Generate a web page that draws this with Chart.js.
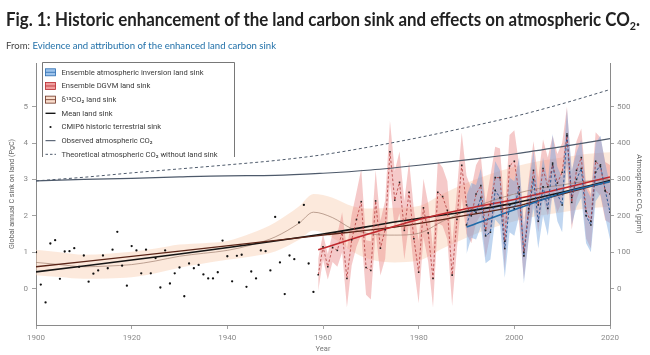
<!DOCTYPE html>
<html><head><meta charset="utf-8">
<script src="https://cdn.jsdelivr.net/npm/chart.js@4.4.1/dist/chart.umd.min.js"></script>
<style>
html,body{margin:0;padding:0;background:#fff;width:650px;height:355px;overflow:hidden}
#wrap{position:absolute;left:0;top:0;width:650px;height:355px}
#title{position:absolute;left:6px;top:9px;font:bold 19px Lato, sans-serif;line-height:19px;color:#222;white-space:nowrap;transform-origin:0 0}
#title sub{font-size:12px;vertical-align:-4px;line-height:0}
#sub{position:absolute;left:6px;top:41px;font:9px Lato, sans-serif;line-height:9px;color:#444;white-space:nowrap;transform-origin:0 0}
#sub span{color:#1f6fa8}
</style></head>
<body>
<div id="wrap"><canvas id="c" width="650" height="355"></canvas></div>
<div id="title">Fig. 1: Historic enhancement of the land carbon sink and effects on atmospheric CO<sub>2</sub>.</div>
<div id="sub">From: <span>Evidence and attribution of the enhanced land carbon sink</span></div>
<script>
// ---------- data (PgC yr-1 unless noted) ----------
const cmipYears = [1900,1901,1902,1903,1904,1905,1906,1907,1908,1909,1910,1911,1912,1913,1914,1915,1916,1917,1918,1919,1920,1921,1922,1923,1924,1925,1926,1927,1928,1929,1930,1931,1932,1933,1934,1935,1936,1937,1938,1939,1940,1941,1942,1943,1944,1945,1946,1947,1948,1949,1950,1951,1952,1953,1954,1955,1956,1957,1958];
const cmipSink = [1.00,0.11,-0.38,1.24,1.33,0.27,1.02,1.03,1.11,0.60,0.91,0.19,0.41,0.50,0.91,0.56,1.07,1.56,0.63,0.08,1.17,1.05,0.42,1.07,0.42,0.84,0.03,1.05,0.14,0.42,0.58,-0.21,0.69,0.56,0.65,0.39,0.28,0.28,0.45,1.32,0.89,0.20,0.90,0.93,0.05,0.47,0.28,1.05,1.03,0.50,1.97,0.72,-0.15,0.91,0.81,1.82,2.30,0.69,-0.09];

const dgvmYears = [1959,1960,1961,1962,1963,1964,1965,1966,1967,1968,1969,1970,1971,1972,1973,1974,1975,1976,1977,1978,1979,1980,1981,1982,1983,1984,1985,1986,1987,1988,1989,1990,1991,1992,1993,1994,1995,1996,1997,1998,1999,2000,2001,2002,2003,2004,2005,2006,2007,2008,2009,2010,2011,2012,2013,2014,2015,2016,2017,2018,2019,2020];
const dgvmSink = [0.38,1.15,0.60,1.13,1.05,1.55,0.28,1.34,1.90,2.39,0.58,0.50,2.41,1.11,1.62,3.76,2.43,2.92,1.60,2.65,1.37,0.45,2.22,1.53,0.28,2.65,2.53,2.15,0.37,1.90,3.39,2.30,2.00,2.60,2.83,1.60,2.30,3.05,3.05,1.30,3.37,3.50,2.60,1.00,2.20,3.25,2.30,3.30,2.80,3.40,2.90,3.20,4.20,2.37,3.25,3.60,2.13,1.85,3.50,3.35,2.68,2.60];
const dgvmSpread = [0.45,0.35,0.35,0.40,0.45,0.55,0.80,0.70,0.75,0.90,0.75,0.80,0.85,0.75,0.80,0.85,0.80,0.85,0.80,0.85,0.80,0.85,0.80,0.80,0.80,0.85,0.80,0.80,0.85,0.80,0.90,0.80,0.75,0.80,0.80,0.75,0.80,0.85,0.80,0.80,0.85,0.85,0.80,0.75,0.80,0.80,0.75,0.80,0.80,0.80,0.80,0.80,0.80,0.75,0.80,0.80,0.75,0.75,0.80,0.80,0.80,0.80];

const invYears = [1990,1991,1992,1993,1994,1995,1996,1997,1998,1999,2000,2001,2002,2003,2004,2005,2006,2007,2008,2009,2010,2011,2012,2013,2014,2015,2016,2017,2018,2019,2020];
const invSink = [1.75,2.15,2.10,2.50,1.45,1.55,2.70,2.50,1.10,2.30,2.20,2.80,0.90,2.10,3.00,1.85,2.80,2.20,3.45,2.60,2.30,4.25,2.50,3.00,3.30,2.00,1.75,3.20,3.40,2.70,2.10];
const invSpread = [0.80,0.75,0.75,0.80,0.75,0.75,0.80,0.75,0.80,0.75,0.75,0.80,0.75,0.75,0.80,0.75,0.80,0.75,0.80,0.75,0.75,0.70,0.75,0.75,0.80,0.75,0.75,0.80,0.80,0.75,0.75];

const d13Years = [1900,1905,1910,1915,1920,1925,1930,1935,1940,1945,1950,1955,1958,1962,1966,1970,1975,1980,1985,1990,1995,2000,2005,2010,2015,2020];
const d13Sink = [0.72,0.66,0.60,0.62,0.66,0.76,0.89,0.97,1.05,1.20,1.42,1.80,2.10,1.95,1.65,1.50,1.47,1.52,1.85,2.15,2.40,2.60,2.75,2.85,2.95,3.00];
const d13Spread = [0.35,0.34,0.33,0.34,0.35,0.34,0.32,0.28,0.26,0.32,0.40,0.46,0.50,0.55,0.62,0.70,0.75,0.75,0.75,0.75,0.75,0.75,0.75,0.75,0.75,0.75];

const meanYears = [1900,1930,1960,1976,1989,2000,2010,2020];
const meanSink = [0.46,0.95,1.50,1.85,2.10,2.35,2.65,2.97];
const d13Trend = [0.60,1.03,1.47,1.71,1.99,2.25,2.60,2.95];
const dgvmTrendYears = [1959,1970,1980,1989,2000,2010,2020];
const dgvmTrend = [1.07,1.52,1.90,2.17,2.45,2.75,3.07];
const invTrendYears = [1990,2000,2010,2020];
const invTrend = [1.69,2.17,2.62,2.94];

// atmospheric CO2 (ppm)
const co2Years = [1900,1910,1920,1930,1940,1950,1960,1970,1980,1990,2000,2010,2020];
const co2Observed = [296,300,303,307,310,311,317,326,339,354,370,390,412];
const co2NoLandSink = [296,306,318,329,340,352,368,390,415,443,473,508,547];

const xTicks = [1900,1920,1940,1960,1980,2000,2020];
const yTicks = [0,1,2,3,4,5];
const y2Ticks = [0,100,200,300,400,500];

const legendLabels = ['Ensemble atmospheric inversion land sink','Ensemble DGVM land sink','\u03B4\u00B9\u00B3CO\u2082 land sink','Mean land sink','CMIP6 historic terrestrial sink','Observed atmospheric CO\u2082','Theoretical atmospheric CO\u2082 without land sink'];

// ---------- helpers ----------
const pts = (xs, ys) => xs.map((x, i) => ({x: x, y: ys[i]}));
const lo = (xs, ys, sp) => xs.map((x, i) => ({x: x, y: ys[i] - sp[i]}));
const hi = (xs, ys, sp) => xs.map((x, i) => ({x: x, y: ys[i] + sp[i]}));

const C = {
  invFill: 'rgba(115,165,222,0.45)', invLine: '#1c4f8f', invTrend: '#1f6aa8',
  dgvmFill: 'rgba(232,126,126,0.42)', dgvmLine: '#b23a3a', dgvmTrend: '#c0282d',
  d13Fill: 'rgba(248,206,178,0.45)', d13Line: '#a08070', d13Trend: '#5a2417',
  mean: '#151515', co2: '#4e5a6b', axis: '#8a8a8a'
};

const line = (data, color, width, extra) => Object.assign({
  type: 'line', data: data, borderColor: color, borderWidth: width, pointRadius: 0,
  fill: false, cubicInterpolationMode: 'monotone'
}, extra || {});

const datasets = [
  // 0 CMIP6 dots
  {type: 'line', data: pts(cmipYears, cmipSink), showLine: false, pointRadius: 1.15, pointBackgroundColor: '#111', pointBorderWidth: 0, order: 1},
  // 1 DGVM yearly
  line(pts(dgvmYears, dgvmSink), C.dgvmLine, 0.8, {borderDash: [2.5, 2], cubicInterpolationMode: 'default', tension: 0, pointRadius: 1.1, pointStyle: 'rect', pointBackgroundColor: '#222', pointBorderWidth: 0, order: 2}),
  // 2 inversion yearly
  line(pts(invYears, invSink), C.invLine, 0.9, {borderDash: [2.5, 2], cubicInterpolationMode: 'default', tension: 0, pointRadius: 1.1, pointStyle: 'rect', pointBackgroundColor: '#222', pointBorderWidth: 0, order: 2}),
  // 3-6 trends
  line(pts(invTrendYears, invTrend), C.invTrend, 1.6, {order: 3}),
  line(pts(dgvmTrendYears, dgvmTrend), C.dgvmTrend, 1.5, {order: 3}),
  line(pts(meanYears, d13Trend), C.d13Trend, 1.3, {order: 3}),
  line(pts(meanYears, meanSink), C.mean, 1.6, {order: 3}),
  // 7 d13C centre
  line(pts(d13Years, d13Sink), C.d13Line, 0.7, {order: 4}),
  // 8-9 CO2
  line(pts(co2Years, co2Observed), C.co2, 1.2, {yAxisID: 'y2', order: 3}),
  line(pts(co2Years, co2NoLandSink), C.co2, 1.0, {yAxisID: 'y2', borderDash: [3, 2.5], order: 3}),
  // 10-11 inversion band
  line(lo(invYears, invSink, invSpread), 'rgba(0,0,0,0)', 0, {cubicInterpolationMode: 'default', tension: 0, order: 7}),
  line(hi(invYears, invSink, invSpread), 'rgba(0,0,0,0)', 0, {cubicInterpolationMode: 'default', tension: 0, fill: '-1', backgroundColor: C.invFill, order: 7}),
  // 12-13 DGVM band
  line(lo(dgvmYears, dgvmSink, dgvmSpread), 'rgba(0,0,0,0)', 0, {cubicInterpolationMode: 'default', tension: 0, order: 8}),
  line(hi(dgvmYears, dgvmSink, dgvmSpread), 'rgba(0,0,0,0)', 0, {cubicInterpolationMode: 'default', tension: 0, fill: '-1', backgroundColor: C.dgvmFill, order: 8}),
  // 14-15 d13C band
  line(lo(d13Years, d13Sink, d13Spread), 'rgba(0,0,0,0)', 0, {order: 9}),
  line(hi(d13Years, d13Sink, d13Spread), 'rgba(0,0,0,0)', 0, {fill: '-1', backgroundColor: C.d13Fill, order: 9})
];

const legendStyles = [
  {kind: 'band', fill: 'rgba(140,185,232,0.85)', stroke: '#2a6cb0'},
  {kind: 'band', fill: 'rgba(236,140,140,0.85)', stroke: '#b8282d'},
  {kind: 'band', fill: 'rgba(250,222,205,1)', stroke: '#6b3020'},
  {kind: 'line', stroke: '#151515', width: 1.4},
  {kind: 'dot'},
  {kind: 'line', stroke: C.co2, width: 1.1},
  {kind: 'dash', stroke: C.co2, width: 1}
];

const legendPlugin = {
  id: 'boxLegend',
  afterDraw(chart) {
    const c = chart.ctx;
    c.save();
    c.strokeStyle = '#555'; c.lineWidth = 0.8; c.setLineDash([]);
    c.beginPath(); c.moveTo(42.5, 157); c.lineTo(42.5, 62.5); c.lineTo(234.5, 62.5); c.lineTo(234.5, 157); c.stroke();
    c.font = '7.6px Roboto, sans-serif';
    c.textBaseline = 'middle'; c.textAlign = 'left';
    legendLabels.forEach((lab, i) => {
      const cy = 72.3 + i * 13.67;
      const s = legendStyles[i];
      c.setLineDash([]);
      if (s.kind === 'band') {
        c.fillStyle = s.fill; c.fillRect(45.5, cy - 3.5, 10, 7);
        c.strokeStyle = s.stroke; c.lineWidth = 0.8; c.strokeRect(45.5, cy - 3.5, 10, 7);
        c.beginPath(); c.moveTo(45.5, cy); c.lineTo(55.5, cy); c.stroke();
      } else if (s.kind === 'line') {
        c.strokeStyle = s.stroke; c.lineWidth = s.width;
        c.beginPath(); c.moveTo(45.5, cy); c.lineTo(55.5, cy); c.stroke();
      } else if (s.kind === 'dot') {
        c.fillStyle = '#111'; c.beginPath(); c.arc(50.5, cy, 1.1, 0, Math.PI * 2); c.fill();
      } else {
        c.strokeStyle = s.stroke; c.lineWidth = s.width; c.setLineDash([2.5, 2]);
        c.beginPath(); c.moveTo(45.5, cy); c.lineTo(56, cy); c.stroke();
      }
      c.fillStyle = '#3a3a3a';
      c.fillText(lab, 61.5, cy + 0.5);
    });
    c.restore();
  }
};

const tickFont = {family: 'Roboto, sans-serif', size: 8};
const gridOpts = {display: true, drawOnChartArea: false, drawTicks: true, tickLength: 4, color: C.axis, lineWidth: 0.8};
const borderOpts = {display: true, color: C.axis, width: 1};

new Chart(document.getElementById('c'), {
  type: 'line',
  data: {datasets: datasets},
  plugins: [legendPlugin],
  options: {
    responsive: false, animation: false, events: [],
    layout: {padding: {top: 63, left: 0, right: 0, bottom: 0}},
    plugins: {legend: {display: false}, tooltip: {enabled: false}, title: {display: false}},
    elements: {line: {borderCapStyle: 'butt'}},
    scales: {
      x: {
        type: 'linear', position: 'bottom', min: 1900, max: 2020,
        afterBuildTicks: s => { s.ticks = xTicks.map(v => ({value: v})); },
        afterFit: s => { s.height = 30; },
        ticks: {font: tickFont, color: '#8a8a8a', padding: 4, maxRotation: 0, callback: v => String(v)},
        grid: gridOpts, border: borderOpts,
        title: {display: true, text: 'Year', font: {family: 'Roboto, sans-serif', size: 7.5}, color: '#777', padding: {top: 0, bottom: 1.5}}
      },
      y: {
        type: 'linear', position: 'left', min: -1, max: 6.2,
        afterBuildTicks: s => { s.ticks = yTicks.map(v => ({value: v})); },
        afterFit: s => { s.width = 36; },
        ticks: {font: tickFont, color: '#8a8a8a', padding: 4},
        grid: gridOpts, border: borderOpts,
        title: {display: true, text: 'Global annual C sink on land (PgC)', font: {family: 'Roboto, sans-serif', size: 7.2}, color: '#666', padding: {top: 7.5, bottom: 0}}
      },
      y2: {
        type: 'linear', position: 'right', min: -100, max: 620,
        afterBuildTicks: s => { s.ticks = y2Ticks.map(v => ({value: v})); },
        afterFit: s => { s.width = 40; },
        ticks: {font: tickFont, color: '#8a8a8a', padding: 3},
        grid: gridOpts, border: borderOpts,
        title: {display: true, text: 'Atmospheric CO\u2082 (ppm)', font: {family: 'Roboto, sans-serif', size: 7.5}, color: '#666', padding: {top: 6.5, bottom: 6.5}}
      }
    }
  }
});

function fitText(id, target) {
  const el = document.getElementById(id);
  el.style.transform = 'none';
  const w = el.getBoundingClientRect().width;
  el.style.transform = 'scaleX(' + (target / w) + ')';
}
fitText('title', 634);
fitText('sub', 270);
if (document.fonts && document.fonts.ready) document.fonts.ready.then(() => { fitText('title', 634); fitText('sub', 270); });
</script>
</body></html>
